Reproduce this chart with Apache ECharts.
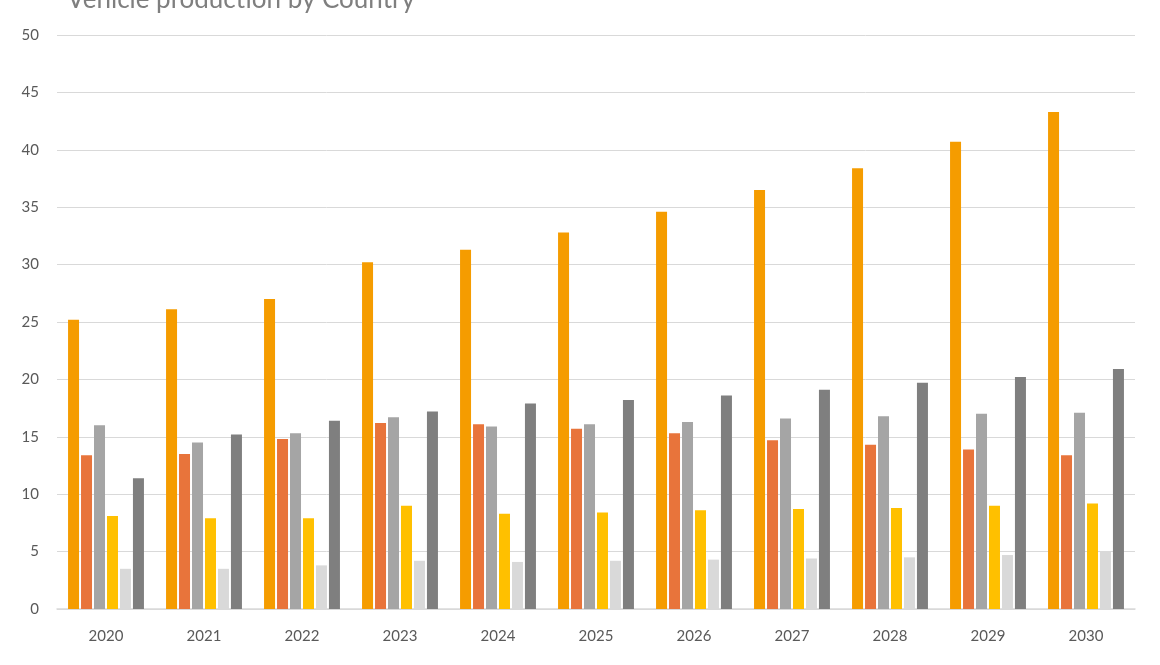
<!DOCTYPE html>
<html><head><meta charset="utf-8">
<script src="https://cdn.jsdelivr.net/npm/echarts@6/dist/echarts.min.js"></script>
<style>html,body{margin:0;padding:0;background:#fff}#c{width:1160px;height:665px}</style>
</head><body><div id="c"></div>
<script>
var years = ['2020','2021','2022','2023','2024','2025','2026','2027','2028','2029','2030'];
var s1 = [25.2,26.1,27.0,30.2,31.3,32.8,34.6,36.5,38.4,40.7,43.3];
var s2 = [13.4,13.5,14.8,16.2,16.1,15.7,15.3,14.7,14.3,13.9,13.4];
var s3 = [16.0,14.5,15.3,16.7,15.9,16.1,16.3,16.6,16.8,17.0,17.1];
var s4 = [8.1,7.9,7.9,9.0,8.3,8.4,8.6,8.7,8.8,9.0,9.2];
var s5 = [3.5,3.5,3.8,4.2,4.1,4.2,4.3,4.4,4.5,4.7,5.0];
var s6 = [11.4,15.2,16.4,17.2,17.9,18.2,18.6,19.1,19.7,20.2,20.9];
var names = ['Series 1','Series 2','Series 3','Series 4','Series 5','Series 6'];
var colors = ['#f59c00','#e8743b','#a5a5a5','#ffc000','#d9d9d9','#7f7f7f'];
var chart = echarts.init(document.getElementById('c'));
var font = 'Lato';
var series = [s1,s2,s3,s4,s5,s6].map(function(d,i){
  return {name:names[i],type:'bar',data:d,barWidth:11,barGap:'18%',itemStyle:{color:colors[i]}};
});
chart.setOption({
  animation:false,
  title:{text:'Vehicle production by Country',left:62,top:-18,textStyle:{color:'#7f7f7f',fontSize:26,fontWeight:'normal',fontFamily:font}},
  grid:{left:57,right:25,top:35,bottom:56},
  xAxis:{type:'category',data:years,axisTick:{show:false},
    axisLine:{lineStyle:{color:'#d9d9d9',width:1.5}},
    axisLabel:{color:'#595959',fontSize:15,fontFamily:font,margin:20}},
  yAxis:{type:'value',min:0,max:50,interval:5,
    axisLabel:{color:'#595959',fontSize:15,fontFamily:font,margin:18},
    splitLine:{lineStyle:{color:'#d9d9d9'}}},
  series:series
});
</script></body></html>
